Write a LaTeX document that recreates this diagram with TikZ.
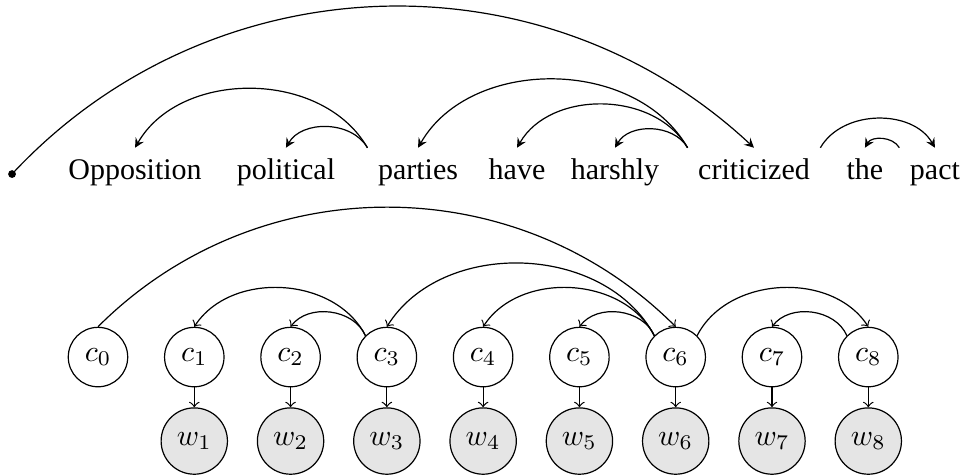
\documentclass[tikz,border=0pt]{standalone}
\usepackage{fontspec}
\setmainfont{Liberation Serif}
\usetikzlibrary{positioning}

\tikzset{
  word/.style={anchor=base, text height=1.5ex, text depth=.25ex},
  latent/.style={circle, draw},
  obs/.style={circle, draw, fill=gray!20},
  dep/.style={-stealth},
  arc/.style={->},
}

\begin{document}
\begin{tikzpicture}[node distance=1.128cm]
    \useasboundingbox (0,0) rectangle (11.305,5.565);

    % sentence
    \node (root) [circle, fill, inner sep=0pt, minimum size=2.6pt] at (0.141,3.526) {};
    \node (opposition) [word] at (1.582,3.468) {Opposition};
    \node (political) [word] at (3.350,3.468) {political};
    \node (parties) [word] at (4.897,3.468) {parties};
    \node (have) [word] at (6.057,3.468) {have};
    \node (harshly) [word] at (7.205,3.468) {harshly};
    \node (criticized) [word] at (8.833,3.468) {criticized};
    \node (the) [word] at (10.133,3.468) {the};
    \node (pact) [word] at (10.953,3.468) {pact};

    \draw (root.center) edge[dep, bend left=45] (criticized.north);
    \draw (parties.north west)
        edge[dep, bend right=60] (opposition.north)
        edge[dep, bend right=60] (political.north);
    \draw (criticized.north west)
        edge[dep, bend right=60] (parties.north)
        edge[dep, bend right=60] (have.north)
        edge[dep, bend right=60] (harshly.north);
    \draw (criticized.north east)
        edge[dep, bend left=60] (pact.north);
    \draw (pact.north west)
        edge[dep, bend right=60] (the.north);

    % model
    \node (c0) [latent] at (1.148,1.382) {$c_0$};
    \node (c1) [latent, right of=c0] {$c_1$};
    \node (c2) [latent, right of=c1] {$c_2$};
    \node (c3) [latent, right of=c2] {$c_3$};
    \node (c4) [latent, right of=c3] {$c_4$};
    \node (c5) [latent, right of=c4] {$c_5$};
    \node (c6) [latent, right of=c5] {$c_6$};
    \node (c7) [latent, right of=c6] {$c_7$};
    \node (c8) [latent, right of=c7] {$c_8$};

    \begin{scope}[node distance=0.984cm]
        \node (w1) [obs, below of=c1] {$w_1$};
        \node (w2) [obs, below of=c2] {$w_2$};
        \node (w3) [obs, below of=c3] {$w_3$};
        \node (w4) [obs, below of=c4] {$w_4$};
        \node (w5) [obs, below of=c5] {$w_5$};
        \node (w6) [obs, below of=c6] {$w_6$};
        \node (w7) [obs, below of=c7] {$w_7$};
        \node (w8) [obs, below of=c8] {$w_8$};
    \end{scope}

    \draw (c0.north) edge[arc, bend left=45] (c6.north);
    \draw (c3.north west)
        edge[arc, bend right=60] (c1.north)
        edge[arc, bend right=60] (c2.north);
    \draw (c6.north west)
        edge[arc, bend right=60] (c3.north)
        edge[arc, bend right=60] (c4.north)
        edge[arc, bend right=60] (c5.north);
    \draw (c6.north east)
        edge[arc, bend left=60] (c8.north);
    \draw (c8.north west)
        edge[arc, bend right=60] (c7.north);

    \draw (c1) edge[arc] (w1) (c2) edge[arc] (w2) (c3) edge[arc] (w3)
        (c4) edge[arc] (w4) (c5) edge[arc] (w5) (c6) edge[arc] (w6)
        (c7) edge[arc] (w7) (c8) edge[arc] (w8);
\end{tikzpicture}
\end{document}
